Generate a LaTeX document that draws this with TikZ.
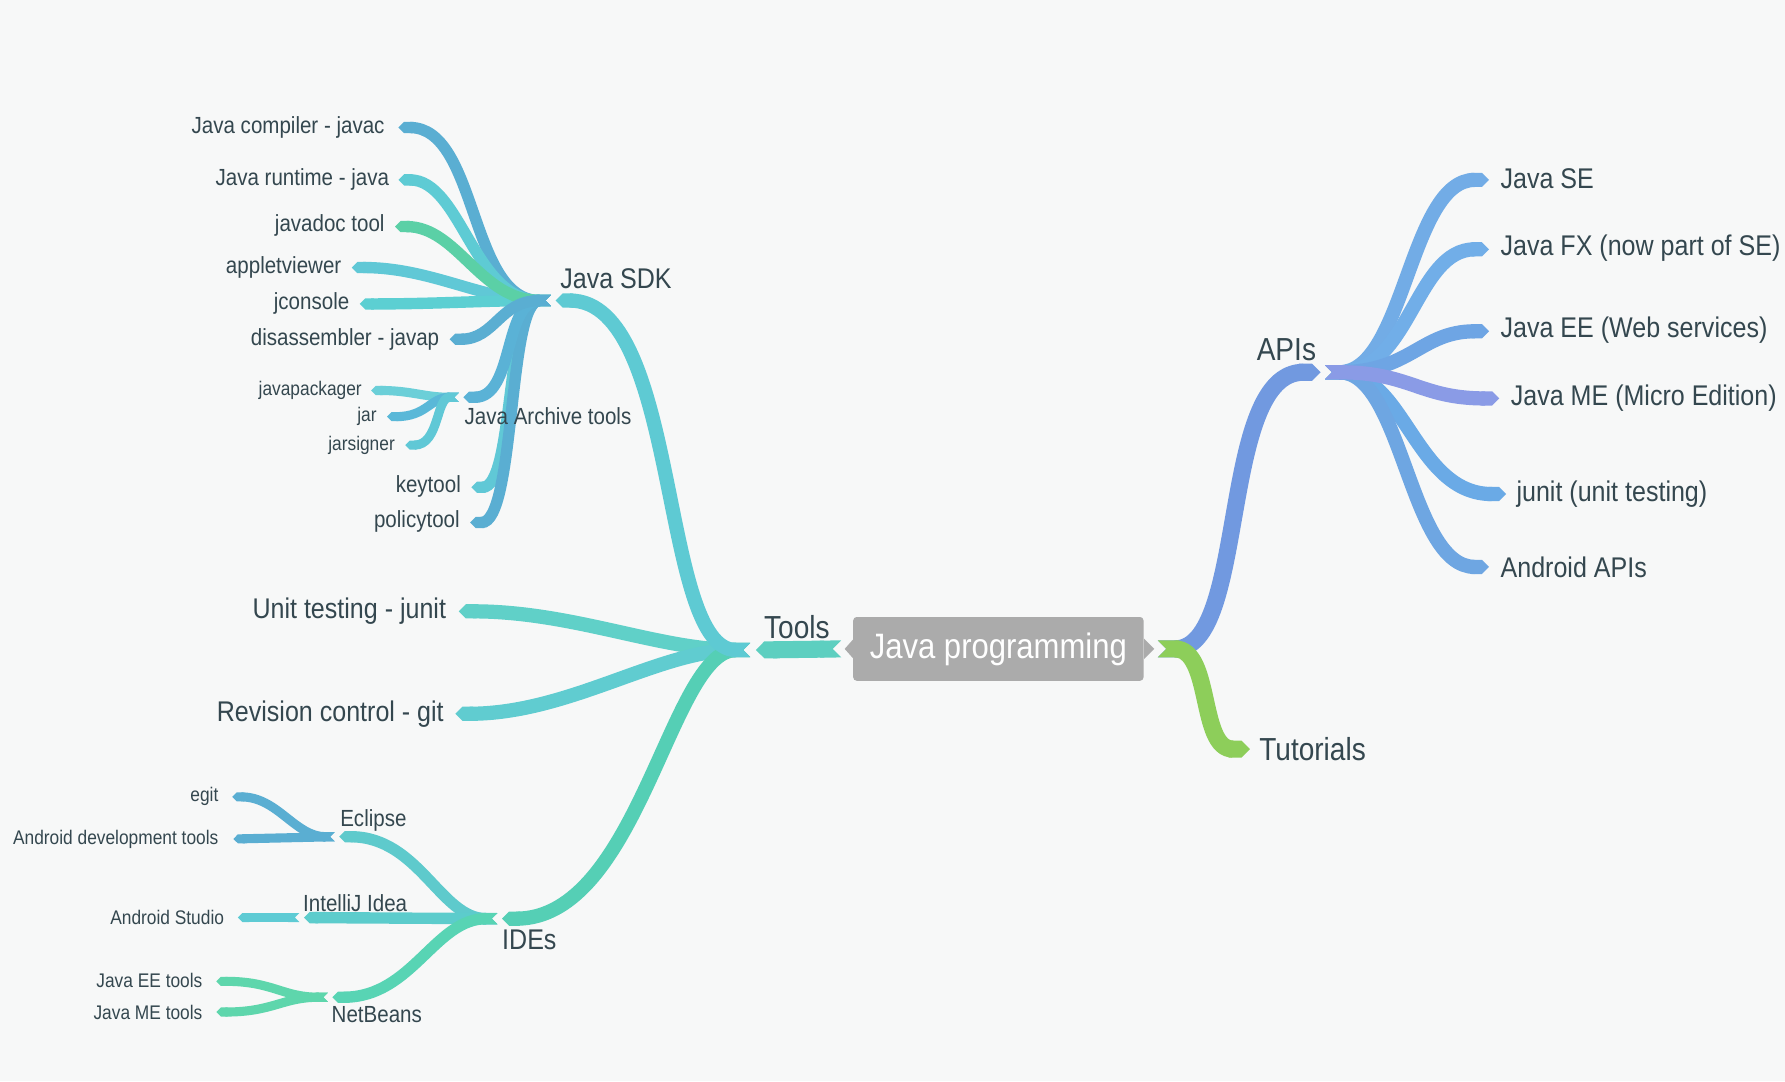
\documentclass[tikz,border=0pt]{standalone}
\usepackage{fontspec}
\setmainfont{Liberation Sans}[FakeStretch=0.88]
\usetikzlibrary{arrows.meta}
\definecolor{bg}{HTML}{F7F8F8}
\definecolor{txt}{HTML}{34474F}
\definecolor{boxg}{HTML}{ABABAB}
\definecolor{cTools}{HTML}{5DCFC0}
\definecolor{cSDK}{HTML}{5ECAD3}
\definecolor{cUnit}{HTML}{60D0C8}
\definecolor{cRev}{HTML}{60CCD0}
\definecolor{cIDE}{HTML}{55CFB5}
\definecolor{cAPI}{HTML}{7199E0}
\definecolor{cTut}{HTML}{8DCE5A}
\definecolor{cSE}{HTML}{72ACE6}
\definecolor{cFX}{HTML}{71AEE8}
\definecolor{cEE}{HTML}{6EA5E4}
\definecolor{cME}{HTML}{8A9BE6}
\definecolor{cJU}{HTML}{6AAAE6}
\definecolor{cAA}{HTML}{6EA6E2}
\definecolor{cSteel}{HTML}{5AAED2}
\definecolor{cCyan}{HTML}{5ECBD4}
\definecolor{cGreen}{HTML}{5BD0A6}
\definecolor{cCyan2}{HTML}{60C8D6}
\definecolor{cCyan3}{HTML}{5CCFD2}
\definecolor{cArch}{HTML}{5AB2D6}
\definecolor{cLight}{HTML}{6BCFD8}
\definecolor{cJar}{HTML}{5AB8D8}
\definecolor{cEcl}{HTML}{5ECACC}
\definecolor{cInt}{HTML}{5CCCCC}
\definecolor{cNB}{HTML}{58D4B4}
\definecolor{cNBc}{HTML}{5ED6AC}
\tikzset{
  rib/.style={line width=#1, {Triangle Cap[reversed]}-{Triangle Cap}},
  lab/.style={text=txt, inner sep=0pt},
  fA/.style={font=\fontsize{31}{31}\selectfont},
  fB/.style={font=\fontsize{28}{28}\selectfont},
  fC/.style={font=\fontsize{25}{25}\selectfont},
  fD/.style={font=\fontsize{20.5}{20.5}\selectfont},
  fE/.style={font=\fontsize{17.3}{17.3}\selectfont},
}
\begin{document}
\begin{tikzpicture}[x=1pt,y=-1pt]
\fill[bg] (0,0) rectangle (1568,950);
\useasboundingbox (0,0) rectangle (1568,950);

% ---- hub and tip coordinates ----
\coordinate (cL) at (739,570);
\coordinate (cR) at (1017,570);
\coordinate (tools) at (664,571);
\coordinate (toolsO) at (659,571);
\coordinate (sdk) at (488,264);
\coordinate (sdkO) at (484,264);
\coordinate (tComp) at (350,112);
\coordinate (tRun) at (350,158);
\coordinate (tDoc) at (347,199);
\coordinate (tApp) at (309,235);
\coordinate (tCon) at (316,267);
\coordinate (tDis) at (395,298);
\coordinate (arch) at (407,349);
\coordinate (archO) at (403,349);
\coordinate (tKey) at (414,428);
\coordinate (tPol) at (413,459);
\coordinate (tJp) at (326,343);
\coordinate (tJar) at (340,366);
\coordinate (tJs) at (356,391);
\coordinate (tUnit) at (403,537);
\coordinate (tRev) at (400,627);
\coordinate (ides) at (441,807);
\coordinate (idesO) at (437,807);
\coordinate (ecl) at (298,735);
\coordinate (eclO) at (294,735);
\coordinate (tEgit) at (204,700);
\coordinate (tAdt) at (205,737);
\coordinate (intj) at (267,806);
\coordinate (intjO) at (263,806);
\coordinate (tAs) at (209,806);
\coordinate (nb) at (292,876);
\coordinate (nbO) at (288,876);
\coordinate (tEet) at (190,862);
\coordinate (tMet) at (190,889);
\coordinate (apis) at (1160,327);
\coordinate (apisO) at (1164,327);
\coordinate (tTut) at (1098,658);
\coordinate (tSE) at (1308,158);
\coordinate (tFX) at (1308,219);
\coordinate (tEE) at (1308,291);
\coordinate (tME) at (1317,350);
\coordinate (tJU) at (1323,434);
\coordinate (tAA) at (1308,498);

% ---- ribbons ----
% level 4
\draw[rib=8,cLight] (archO) .. controls +(-30,0) and +(35,0) .. (tJp);
\draw[rib=8,cJar] (archO) .. controls +(-25,0) and +(35,0) .. (tJar);
\draw[rib=8,cCyan2] (archO) .. controls +(-20,0) and +(30,0) .. (tJs);
\draw[rib=8,cSteel] (eclO) .. controls +(-35,0) and +(40,0) .. (tEgit);
\draw[rib=8,cSteel] (eclO) -- (tAdt);
\draw[rib=8,cCyan] (intjO) -- (tAs);
\draw[rib=8,cNBc] (nbO) .. controls +(-40,0) and +(50,0) .. (tEet);
\draw[rib=8,cNBc] (nbO) .. controls +(-40,0) and +(50,0) .. (tMet);
% level 3
\draw[rib=10,cSteel] (sdkO) .. controls +(-72,0) and +(70,0) .. (tComp);
\draw[rib=10,cCyan] (sdkO) .. controls +(-68,0) and +(55,0) .. (tRun);
\draw[rib=10,cCyan2] (sdkO) .. controls +(-60,0) and +(70,0) .. (tApp);
\draw[rib=10,cCyan3] (sdkO) .. controls +(-60,0) and +(70,0) .. (tCon);
\draw[rib=10,cGreen] (sdkO) .. controls +(-62,0) and +(55,0) .. (tDoc);
\draw[rib=10,cCyan2] (sdkO) .. controls +(-40,0) and +(38,0) .. (tKey);
\draw[rib=10,cSteel] (sdkO) .. controls +(-38,0) and +(40,0) .. (tPol);
\draw[rib=10,cArch] (sdkO) .. controls +(-42,0) and +(45,0) .. (arch);
\draw[rib=10,cSteel] (sdkO) .. controls +(-45,0) and +(40,0) .. (tDis);
\draw[rib=10,cEcl] (idesO) .. controls +(-50,0) and +(70,0) .. (ecl);
\draw[rib=10,cInt] (idesO) -- (intj);
\draw[rib=10,cNB] (idesO) .. controls +(-55,0) and +(70,0) .. (nb);
% level 2
\draw[rib=12.5,cUnit] (toolsO) .. controls +(-80,0) and +(100,0) .. (tUnit);
\draw[rib=12.5,cRev] (toolsO) .. controls +(-80,0) and +(100,0) .. (tRev);
\draw[rib=12.5,cIDE] (toolsO) .. controls +(-70,0) and +(120,0) .. (ides);
\draw[rib=12.5,cSDK] (toolsO) .. controls +(-80,0) and +(110,0) .. (sdk);
\draw[rib=12.5,cSE] (apisO) .. controls +(70,0) and +(-70,0) .. (tSE);
\draw[rib=12.5,cFX] (apisO) .. controls +(75,0) and +(-65,0) .. (tFX);
\draw[rib=12.5,cEE] (apisO) .. controls +(75,0) and +(-60,0) .. (tEE);
\draw[rib=12.5,cJU] (apisO) .. controls +(70,0) and +(-80,0) .. (tJU);
\draw[rib=12.5,cAA] (apisO) .. controls +(68,0) and +(-70,0) .. (tAA);
\draw[rib=12.5,cME] (apisO) .. controls +(75,0) and +(-70,0) .. (tME);
% level 1
\draw[rib=15,cTools] (cL) -- (tools);
\draw[rib=15,cAPI] (cR) .. controls +(80,0) and +(-90,0) .. (apis);
\draw[rib=15,cTut] (cR) .. controls +(48,0) and +(-45,0) .. (tTut);

% ---- central node ----
\fill[boxg] (750,561) -- (742,570) -- (750,579) -- cycle;
\fill[boxg] (1005,561) -- (1014,570) -- (1005,579) -- cycle;
\node[fill=boxg, rounded corners=3pt, minimum width=255pt, minimum height=56pt,
      text=white, inner sep=0pt, fA] (center) at (877,570) {Java programming};

% ---- labels ----
\node[lab,fB] (toolsL) at (700,551) {Tools};
\node[lab,fB] (apisL) at (1130,307) {APIs};
\node[lab,fB,anchor=west] (tutL) at (1106,658) {Tutorials};

\node[lab,fC,anchor=west] (sdkL) at (492,245) {Java SDK};
\node[lab,fC,anchor=east] (unitL) at (392,537) {Unit testing - junit};
\node[lab,fC,anchor=east] (revL) at (390,627) {Revision control - git};
\node[lab,fC] (idesL) at (465,826) {IDEs};

\node[lab,fC,anchor=west] (seL) at (1318,157) {Java SE};
\node[lab,fC,anchor=west] (fxL) at (1318,218) {Java FX (now part of SE)};
\node[lab,fC,anchor=west] (eeL) at (1318,290) {Java EE (Web services)};
\node[lab,fC,anchor=west] (meL) at (1327,350) {Java ME (Micro Edition)};
\node[lab,fC,anchor=west] (juL) at (1332,434) {junit (unit testing)};
\node[lab,fC,anchor=west] (aaL) at (1318,498) {Android APIs};

\node[lab,fD,anchor=east] (compL) at (338,112) {Java compiler - javac};
\node[lab,fD,anchor=east] (runL) at (342,158) {Java runtime - java};
\node[lab,fD,anchor=east] (docL) at (338,198) {javadoc tool};
\node[lab,fD,anchor=east] (appL) at (300,235) {appletviewer};
\node[lab,fD,anchor=east] (conL) at (307,267) {jconsole};
\node[lab,fD,anchor=east] (disL) at (386,298) {disassembler - javap};
\node[lab,fD,anchor=west] (archL) at (408,366) {Java Archive tools};
\node[lab,fD,anchor=east] (keyL) at (405,427) {keytool};
\node[lab,fD,anchor=east] (polL) at (404,458) {policytool};

\node[lab,fE,anchor=east] (jpL) at (318,343) {javapackager};
\node[lab,fE,anchor=east] (jarL) at (331,366) {jar};
\node[lab,fE,anchor=east] (jsL) at (347,391) {jarsigner};

\node[lab,fD] (eclL) at (328,721) {Eclipse};
\node[lab,fD] (intjL) at (312,793) {IntelliJ Idea};
\node[lab,fD] (nbL) at (331,891) {NetBeans};

\node[lab,fE,anchor=east] (egitL) at (192,700) {egit};
\node[lab,fE,anchor=east] (adtL) at (192,737) {Android development tools};
\node[lab,fE,anchor=east] (asL) at (197,806) {Android Studio};
\node[lab,fE,anchor=east] (eetL) at (178,861) {Java EE tools};
\node[lab,fE,anchor=east] (metL) at (178,889) {Java ME tools};
\end{tikzpicture}
\end{document}
